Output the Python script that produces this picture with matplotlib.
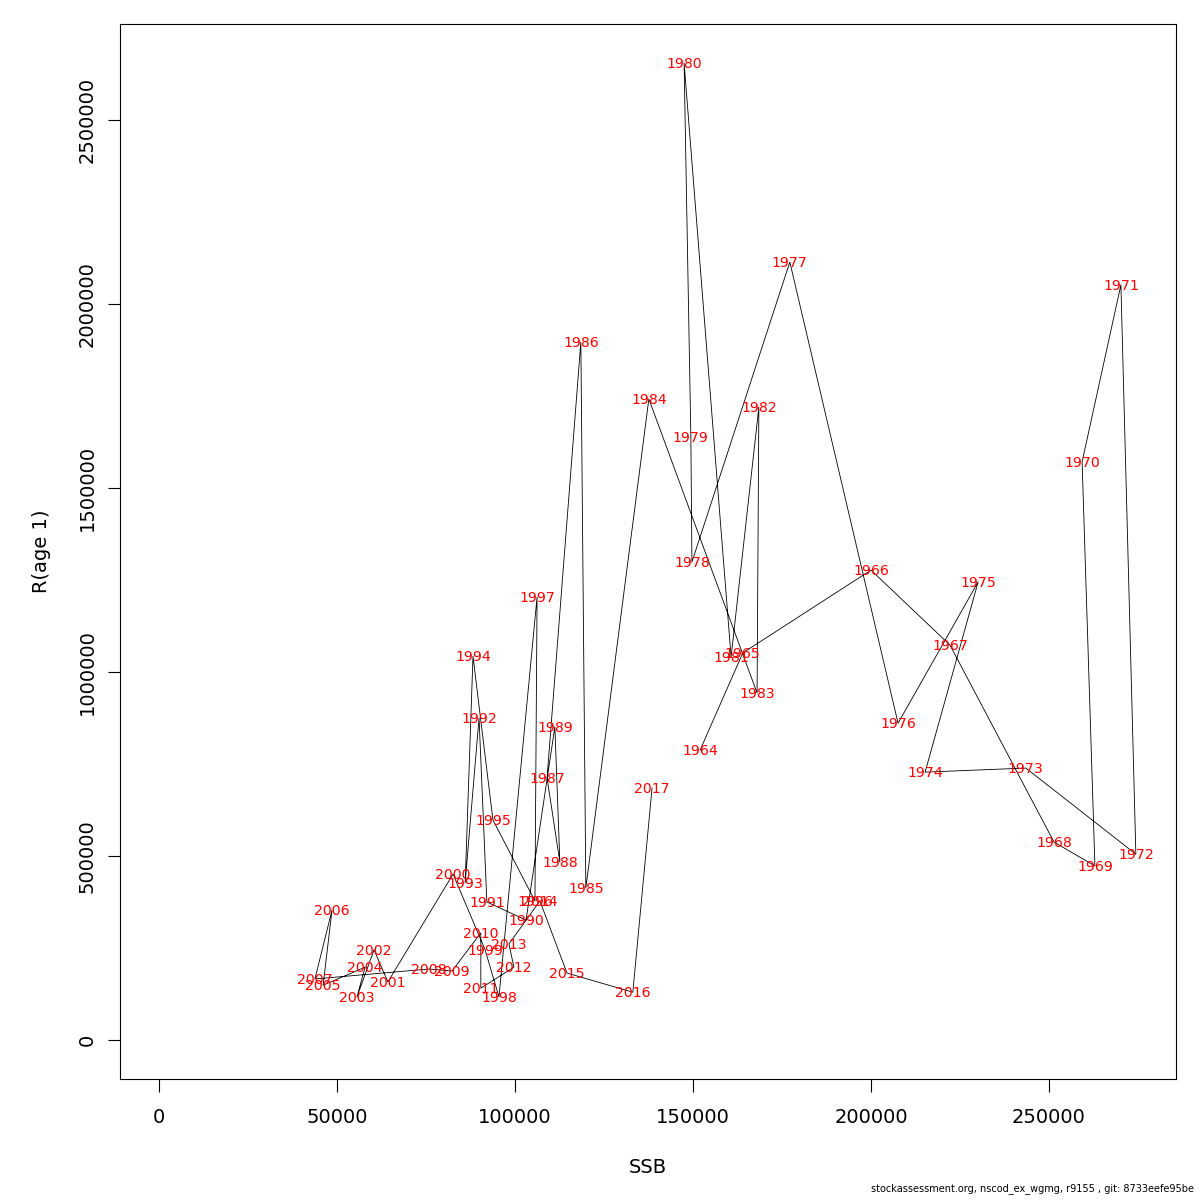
import numpy as np
import matplotlib
matplotlib.use("Agg")
import matplotlib.pyplot as plt

years = list(range(1964, 2018))
ssb = [152000, 164000, 200000, 222200, 251400, 262900, 259300, 270200, 274400, 243500,
       215200, 230100, 207600, 177200, 149700, 149400, 147500, 160700, 168500, 168000,
       137600, 119900, 118500, 109000, 112600, 111200, 103100, 92100, 89900, 86000,
       88200, 93800, 105600, 106200, 95500, 91600, 82600, 64300, 60400, 55600,
       57900, 46100, 48600, 43800, 75800, 82300, 90400, 90400, 99700, 98300,
       107000, 114600, 133100, 138500]
rec = [788000, 1052000, 1277000, 1073000, 538000, 473000, 1571000, 2052000, 505000, 739000,
       728000, 1245000, 861000, 2114000, 1299000, 1639000, 2655000, 1041000, 1720000, 943000,
       1742000, 413000, 1897000, 712000, 484000, 851000, 326000, 375000, 875000, 427000,
       1043000, 598000, 378000, 1204000, 117000, 245000, 451000, 158000, 245000, 117000,
       198000, 149000, 353000, 166000, 193000, 187500, 291000, 141000, 198000, 261000,
       378000, 182000, 130000, 685000]

xticks = [0, 50000, 100000, 150000, 200000, 250000]
yticks = [0, 500000, 1000000, 1500000, 2000000, 2500000]

fig = plt.figure(figsize=(12, 12), dpi=100)
ax = fig.add_axes([0.1, 0.1008, 0.88, 0.8792])

ax.plot(ssb, rec, color="black", lw=0.6)
for yr, x, y in zip(years, ssb, rec):
    ax.text(x, y - 2500, str(yr), color="red", fontsize=10.2, ha="center", va="center")

ax.set_xlim(-10955, 285675)
ax.set_ylim(-105979, 2760878)
ax.set_xticks(xticks)
ax.set_xticklabels([str(v) for v in xticks])
ax.set_yticks(yticks)
ax.set_yticklabels([str(v) for v in yticks], rotation=90, va="center")
ax.tick_params(axis="both", direction="out", length=9, width=0.8, labelsize=14)
ax.tick_params(axis="x", pad=12)
ax.tick_params(axis="y", pad=8)
for sp in ax.spines.values():
    sp.set_linewidth(0.8)

ax.set_xlabel("SSB", fontsize=14, labelpad=22)
ax.set_ylabel("R(age 1)", fontsize=14, labelpad=19)

fig.text(0.995, 0.005, "stockassessment.org, nscod_ex_wgmg, r9155 , git: 8733eefe95be",
         ha="right", va="bottom", fontsize=7)

fig.savefig("out.png", dpi=100)
